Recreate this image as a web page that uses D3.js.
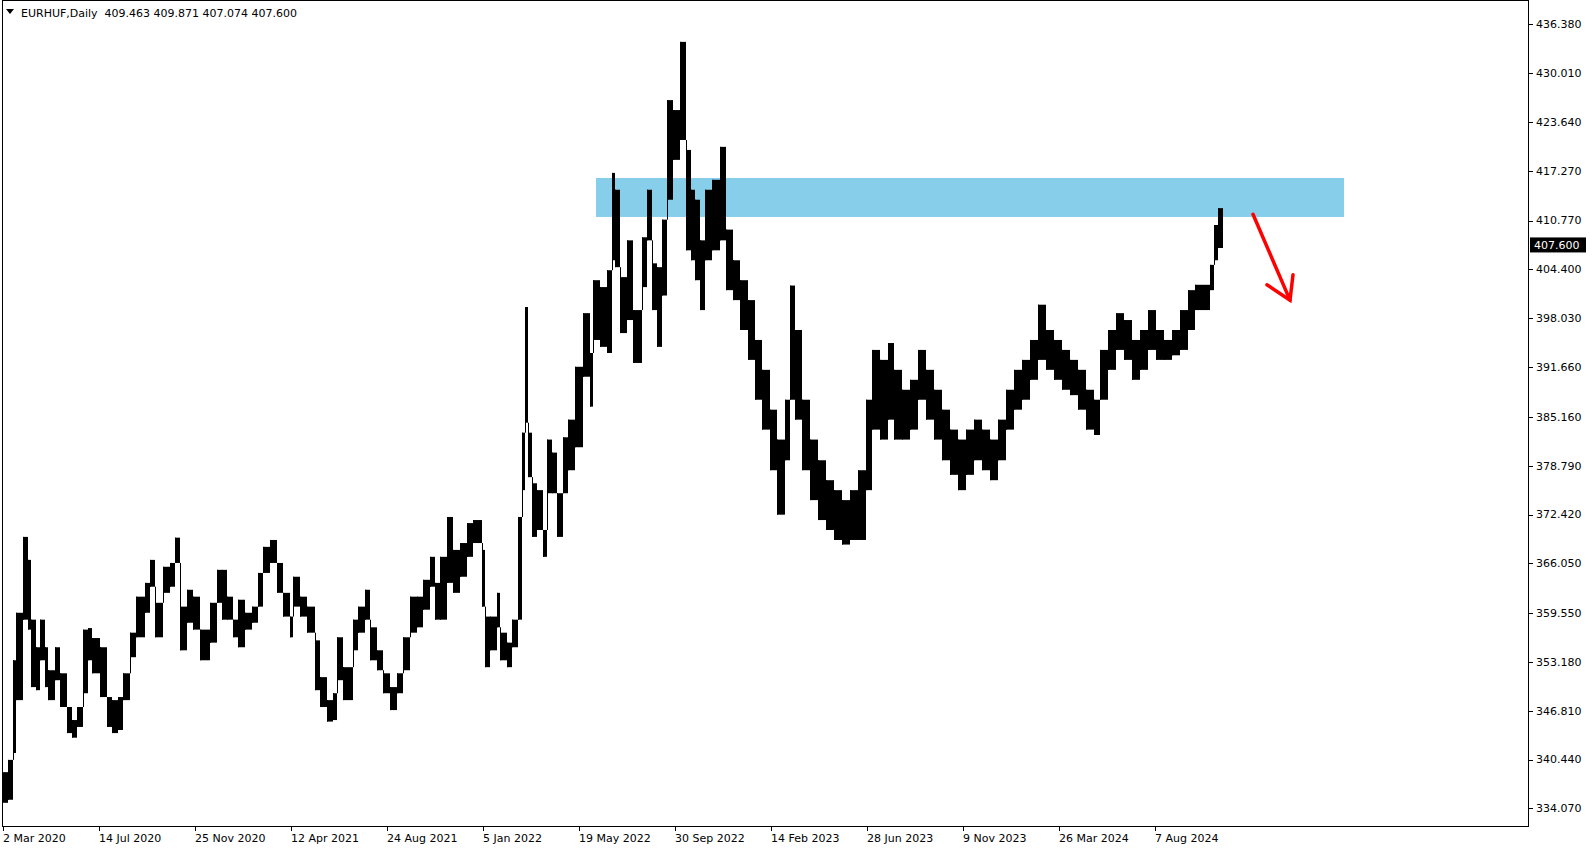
<!DOCTYPE html>
<html><head><meta charset="utf-8">
<script src="https://cdn.jsdelivr.net/npm/d3@7"></script>
<style>html,body{margin:0;padding:0;background:#fff;}svg{display:block;}</style>
</head><body>
<script>
// ---- data (segments of daily bars: starting bar index, high, low) ----
const segStart = [0,5,10,13,20,25,28,33,37,42,45,52,57,64,69,74,80,85,89,97,104,109,115,120,127,133,142,147,152,160,167,172,177,184,190,197,207,214,219,224,230,235,242,249,255,260,267,274,280,287,290,297,304,312,317,324,330,334,340,350,355,362,367,374,380,387,394,400,407,414,420,427,432,437,444,450,457,464,470,479,482,487,494,497,504,509,515,519,522,525,529,534,540,544,549,554,560,565,572,580,587,590,597,604,609,612,617,624,630,639,644,649,654,659,664,670,677,683,688,692,697,702,709,717,723,730,737,745,752,759,767,774,782,787,792,799,807,815,823,831,839,847,855,863,869,877,885,891,899,907,915,923,931,939,947,955,963,971,979,987,995,1003,1011,1019,1027,1035,1043,1051,1059,1067,1075,1083,1091,1097,1105,1113,1121,1129,1137,1145,1153,1161,1169,1177,1185,1192,1207,1211,1215];
const segHigh = [338.8,340.4,353.4,359.6,369.5,366.5,358.7,355.1,358.7,355.1,352.1,355.1,351.7,347.3,345.6,347.3,357.4,357.6,356.3,355.1,348.6,348.2,348.6,351.7,357.0,361.7,363.5,366.5,360.9,365.6,366.1,369.4,360.4,362.6,361.7,357.4,360.9,365.2,365.2,361.7,358.7,361.3,359.6,360.4,364.8,368.2,369.1,366.1,362.2,359.1,364.3,361.7,360.4,356.0,351.2,348.2,349.1,356.4,352.5,358.7,360.4,362.6,357.7,354.7,351.7,349.9,351.7,356.4,361.7,361.7,363.9,366.9,363.5,366.9,372.1,367.8,368.7,371.3,371.7,367.8,359.1,359.1,362.2,357.0,355.7,358.7,372.1,383.1,399.5,383.1,376.5,375.6,370.4,382.2,380.5,375.2,382.5,384.8,391.7,398.7,393.5,403.0,402.1,404.3,417.0,414.8,403.4,408.2,399.1,408.6,414.8,405.2,404.7,410.9,426.5,425.2,434.1,420.0,414.8,413.5,408.2,414.8,416.1,420.4,409.6,405.6,403.0,400.4,395.2,391.3,386.1,382.2,387.4,402.3,396.5,387.4,382.2,379.5,376.9,375.6,374.3,375.6,378.2,387.4,393.9,392.6,394.8,391.3,388.7,390.0,393.9,391.3,388.7,386.1,383.5,382.2,383.5,384.8,383.5,382.2,384.8,388.7,391.3,392.6,395.2,399.8,396.5,395.2,393.9,392.6,391.3,388.7,387.4,393.9,396.5,398.7,397.8,395.2,396.5,399.1,396.5,395.2,396.5,399.1,401.7,402.4,405.0,410.2,412.4];
const segLow = [334.8,335.2,341.3,348.2,358.7,357.4,349.9,349.5,353.4,349.9,348.2,350.8,347.3,343.9,343.3,344.7,349.1,353.4,351.7,348.6,344.7,343.9,344.3,348.2,353.8,356.4,359.6,363.0,356.4,362.2,363.0,366.1,354.7,358.3,357.4,353.4,355.7,360.9,358.7,358.7,356.4,355.1,357.4,358.3,360.4,364.8,366.1,362.2,359.1,356.4,360.4,359.1,357.0,349.5,347.3,345.4,345.6,350.8,348.2,354.7,357.0,358.7,353.4,352.1,349.1,346.9,349.1,352.1,357.0,357.7,360.0,363.0,358.7,358.7,363.5,362.2,364.3,366.9,368.7,360.4,352.5,354.7,357.7,353.4,352.5,355.1,358.7,375.6,384.4,377.3,369.5,370.4,366.9,375.2,375.2,369.5,375.2,378.2,381.2,390.4,386.5,395.2,394.3,393.5,405.6,404.7,396.1,397.8,392.2,402.1,408.2,399.1,394.3,401.0,413.5,418.7,421.3,406.9,405.6,403.0,399.1,405.6,406.9,408.2,401.7,400.4,396.5,392.6,387.4,383.5,378.2,372.4,379.5,387.4,384.8,378.2,374.3,371.7,370.4,369.1,368.5,369.1,369.1,375.6,383.5,382.2,384.8,382.2,382.2,383.5,387.4,384.8,382.2,379.5,377.6,375.6,377.6,379.5,378.2,376.9,379.5,383.5,386.1,387.4,390.0,392.6,391.3,390.0,388.7,388.0,386.1,383.5,382.8,387.4,391.3,393.9,392.6,390.0,391.3,393.9,392.6,392.6,393.2,393.9,396.5,399.1,401.7,405.6,407.2];
const lastBar = 1219;

const yTickValues = [436.380,430.010,423.640,417.270,410.770,404.400,398.030,391.660,385.160,378.790,372.420,366.050,359.550,353.180,346.810,340.440,334.070];
const xTickBars = [0,96,192,288,384,480,576,672,768,864,960,1056,1152];
const xTickLabels = ["2 Mar 2020","14 Jul 2020","25 Nov 2020","12 Apr 2021","24 Aug 2021","5 Jan 2022","19 May 2022","30 Sep 2022","14 Feb 2023","28 Jun 2023","9 Nov 2023","26 Mar 2024","7 Aug 2024"];

const titleText = "EURHUF,Daily  409.463 409.871 407.074 407.600";
const lastPrice = 407.600;

// resistance zone (bar range, price range)
const zoneBars = [593, 1341];
const zonePrices = [411.25, 416.34];
// arrow (bar, price)
const arrowLine = [[1250, 411.6], [1287, 400.4]];
const arrowHead = [[1264, 402.4], [1287, 400.4], [1290, 403.7]];

// ---- drawing ----
const W = 1592, H = 850;
const svg = d3.select("body").append("svg").attr("width", W).attr("height", H);
const font = "DejaVu Sans, Tahoma, sans-serif";

const x = d3.scaleLinear().domain([0, 1525]).range([3, 1528]);
const y = d3.scaleLinear().domain([334.07, 436.38]).range([808.4, 24.4]);

// zone
svg.append("rect")
  .attr("x", x(zoneBars[0])).attr("width", x(zoneBars[1]) - x(zoneBars[0]))
  .attr("y", y(zonePrices[1])).attr("height", y(zonePrices[0]) - y(zonePrices[1]))
  .attr("fill", "#87CEEB");

// bars (each segment = run of daily high-low bars)
const segs = segStart.map((s, i) => ({s, e: i < segStart.length - 1 ? segStart[i + 1] : lastBar + 1, h: segHigh[i], l: segLow[i]}));
svg.append("g").selectAll("rect").data(segs).join("rect")
  .attr("x", d => x(d.s)).attr("width", d => x(d.e) - x(d.s))
  .attr("y", d => y(d.h)).attr("height", d => Math.max(1, y(d.l) - y(d.h)))
  .attr("fill", "#000");
// connect consecutive segments (vertical continuity)
svg.append("g").selectAll("line").data(segs.slice(1)).join("line")
  .attr("x1", d => x(d.s) + 0.5).attr("x2", d => x(d.s) + 0.5)
  .attr("y1", (d, i) => y(Math.max(d.h, segs[i].l)))
  .attr("y2", (d, i) => y(Math.min(d.l, segs[i].h)))
  .attr("stroke", "#000").attr("stroke-width", 1);

// arrow
const line = d3.line().x(d => x(d[0])).y(d => y(d[1]));
svg.append("path").attr("d", line(arrowLine)).attr("stroke", "#FF0000").attr("stroke-width", 3.5).attr("fill", "none").attr("stroke-linecap", "round");
svg.append("path").attr("d", line(arrowHead)).attr("stroke", "#FF0000").attr("stroke-width", 3.5).attr("fill", "none").attr("stroke-linejoin", "miter").attr("stroke-linecap", "round");

// frame
svg.append("rect").attr("x", 2.5).attr("y", 0.5).attr("width", 1526).attr("height", 826)
  .attr("fill", "none").attr("stroke", "#000").attr("stroke-width", 1);

// y axis
const yAxis = svg.append("g");
yTickValues.forEach(v => {
  yAxis.append("line").attr("x1", 1528).attr("x2", 1533).attr("y1", Math.round(y(v)) + 0.5).attr("y2", Math.round(y(v)) + 0.5).attr("stroke", "#000");
  yAxis.append("text").attr("x", 1536).attr("y", y(v)).attr("dy", "0.35em")
    .attr("font-family", font).attr("font-size", 11).attr("fill", "#000").text(d3.format(".3f")(v));
});
// last price label
const ly = y(lastPrice);
svg.append("rect").attr("x", 1530).attr("y", ly - 7.5).attr("width", 56).attr("height", 15).attr("fill", "#000");
svg.append("text").attr("x", 1534).attr("y", ly).attr("dy", "0.35em").attr("font-family", font).attr("font-size", 11).attr("fill", "#fff").text(d3.format(".3f")(lastPrice));

// x axis
const xAxis = svg.append("g");
xTickBars.forEach((b, i) => {
  xAxis.append("line").attr("x1", x(b) + 0.5).attr("x2", x(b) + 0.5).attr("y1", 826).attr("y2", 831).attr("stroke", "#000");
  xAxis.append("text").attr("x", x(b)).attr("y", 842).attr("font-family", font).attr("font-size", 11).attr("fill", "#000").text(xTickLabels[i]);
});

// title
svg.append("path").attr("d", "M6,9 L14,9 L10,14 Z").attr("fill", "#000");
svg.append("text").attr("x", 21).attr("y", 17).attr("font-family", font).attr("font-size", 11).attr("fill", "#000")
  .attr("xml:space", "preserve").style("white-space", "pre").text(titleText);
</script>
</body></html>
